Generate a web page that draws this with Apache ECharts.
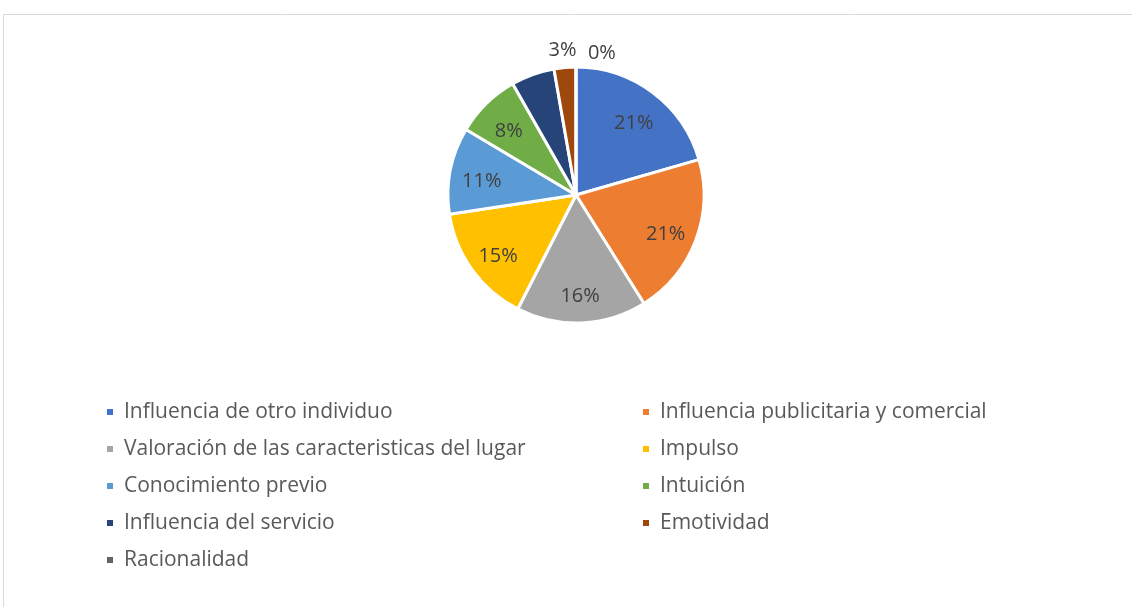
<!DOCTYPE html>
<html>
<head>
<meta charset="utf-8">
<script src="https://cdn.jsdelivr.net/npm/echarts@6/dist/echarts.min.js"></script>
<style>
  html, body { margin: 0; padding: 0; background: #fff; }
  #chart { width: 1132px; height: 607px; }
</style>
</head>
<body>
<div id="chart"></div>
<script>
// categorias y conteos
var categories = [
  'Influencia de otro individuo',
  'Influencia publicitaria y comercial',
  'Valoración de las caracteristicas del lugar',
  'Impulso',
  'Conocimiento previo',
  'Intuición',
  'Influencia del servicio',
  'Emotividad',
  'Racionalidad'
]
var counts = [15, 15, 12, 11, 8, 6, 4, 2, 0]
var colors = ['#4472C4', '#ED7D31', '#A5A5A5', '#FFC000', '#5B9BD5', '#70AD47', '#264478', '#9E480E', '#636363']

var total = counts.reduce(function (a, b) { return a + b }, 0)
var pct = function (v) { return Math.round(v / total * 100) + '%' }

var chart = echarts.init(document.getElementById('chart'))

var labelFont = { fontFamily: 'Open Sans', fontSize: 20, color: '#404040' }
var legendText = { fontFamily: 'Open Sans', fontSize: 21, lineHeight: 24, color: '#595959', padding: [0, 0, 0, 5] }

// serie principal (porciones); etiquetas fuera solo para las pequeñas
var mainData = categories.map(function (name, i) {
  var small = counts[i] / total < 0.04
  return {
    name: name,
    value: counts[i],
    itemStyle: { color: colors[i] },
    label: { show: small }
  }
})
// serie transparente solo para colocar las etiquetas internas mas afuera
var labelData = categories.map(function (name, i) {
  var show = counts[i] / total >= 0.07
  return { name: name, value: counts[i], label: { show: show } }
})

chart.setOption({
  animation: false,
  color: colors,
  graphic: [{
    type: 'rect',
    shape: { x: 3.5, y: 14.5, width: 1200, height: 700 },
    style: { fill: 'none', stroke: '#d9d9d9', lineWidth: 1 },
    silent: true
  }],
  legend: [
    {
      orient: 'vertical', left: 100, top: 395,
      data: [categories[0], categories[2], categories[4], categories[6], categories[8]],
      icon: 'rect', itemWidth: 8, itemHeight: 8, itemGap: 13,
      textStyle: legendText
    },
    {
      orient: 'vertical', left: 636, top: 395,
      data: [categories[1], categories[3], categories[5], categories[7]],
      icon: 'rect', itemWidth: 8, itemHeight: 8, itemGap: 13,
      textStyle: legendText
    }
  ],
  series: [
    {
      type: 'pie',
      center: [576, 195],
      radius: [0, 128],
      startAngle: 90,
      clockwise: true,
      minAngle: 0.05,
      avoidLabelOverlap: false,
      itemStyle: { borderColor: '#fff', borderWidth: 3 },
      label: Object.assign({
        position: 'outside',
        formatter: function (p) { return pct(p.value) }
      }, labelFont),
      labelLine: { show: false, length: 16, length2: 0 },
      labelLayout: function (params) {
        if (params.dataIndex === 8) return { align: 'left', dx: 17, dy: 2 }
        return { dx: 18, dy: -1 }
      },
      emphasis: { disabled: true },
      data: mainData
    },
    {
      type: 'pie',
      center: [576, 195],
      radius: [0, 186],
      startAngle: 90,
      clockwise: true,
      silent: true,
      itemStyle: { color: 'rgba(0,0,0,0)', borderWidth: 0 },
      label: Object.assign({
        position: 'inside',
        formatter: function (p) { return pct(p.value) }
      }, labelFont),
      labelLine: { show: false },
      labelLayout: { dy: 5 },
      emphasis: { disabled: true },
      data: labelData
    }
  ]
})
</script>
</body>
</html>
